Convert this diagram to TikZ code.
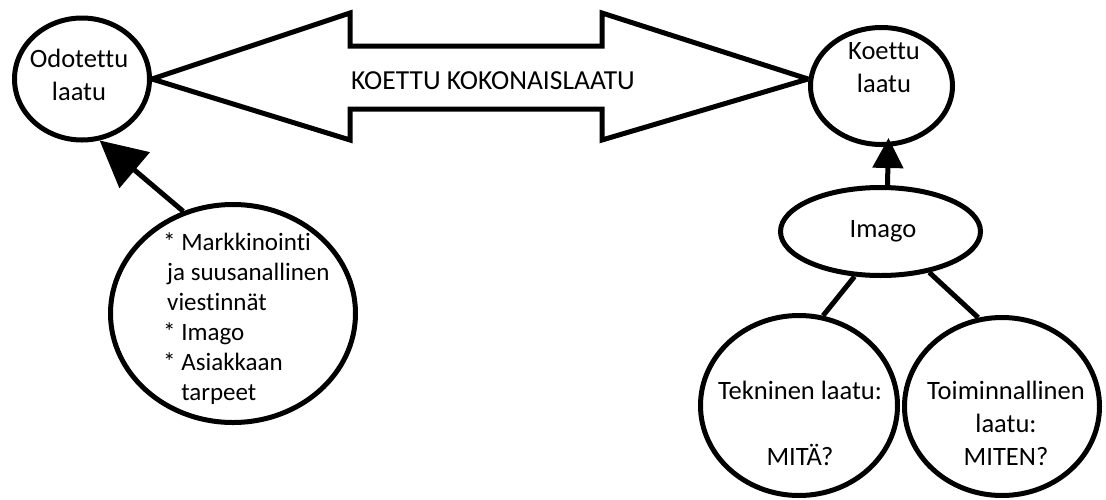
\documentclass[tikz,border=0pt]{standalone}
\usepackage{fontspec}
\setmainfont{Carlito}[Ligatures=NoCommon]
\usetikzlibrary{arrows.meta, shapes.geometric}

\begin{document}
\begin{tikzpicture}[x=1pt, y=-1pt,
  ring/.style={draw, ellipse, line width=5pt, inner sep=0pt, fill=white},
  txt/.style={inner sep=0pt, align=center, font=\fontsize{26.5}{33}\selectfont},
  conn/.style={line width=5pt},
  bigtip/.style={conn, -{Triangle[length=46pt, width=46pt]}},
  smalltip/.style={conn, -{Triangle[length=30pt, width=30pt]}}]
  \useasboundingbox (0,0) rectangle (1106,499);
  % the quality circles
  \node[ring, minimum width=135pt, minimum height=122pt] (odo) at (82,79) {};
  \node[ring, minimum width=142pt, minimum height=117pt] (koe) at (881.5,86) {};
  \node[ring, minimum width=200pt, minimum height=88pt] (img) at (880.5,231.5) {};
  \node[ring, minimum width=197pt, minimum height=180pt] (tek) at (799,405.5) {};
  \node[ring, minimum width=195pt, minimum height=178pt] (toi) at (1002,406.5) {};
  \node[ring, minimum width=245pt, minimum height=218pt] (lst) at (233,313.5) {};
  % double arrow between expected and experienced
  \draw[conn, line join=miter, miter limit=2] (odo.east) -- (350,13) -- (350,46)
    -- (602,46) -- (602,13) -- (koe.west |- odo.east) -- (602,140) -- (602,109)
    -- (350,109) -- (350,140) -- cycle;
  % texts
  \node[txt] (odo-t) at (79,75) {Odotettu\\laatu};
  \node[txt] (koe-t) at (884,68) {Koettu\\laatu};
  \node[txt] (img-t) at (883,231.5) {Imago};
  \node[txt] (tek-t) at (800,423) {Tekninen laatu:\\[33pt]MITÄ?};
  \node[txt] (toi-t) at (1006,423) {Toiminnallinen\\laatu:\\MITEN?};
  \node[txt, font=\fontsize{27.5}{33}\selectfont] (kk-t) at (493,80.5) {KOETTU KOKONAISLAATU};
  \node[txt, align=left, anchor=west, font=\fontsize{25}{30}\selectfont] (lst-t) at (163,319)
    {* Markkinointi\\\hspace{4pt}ja suusanallinen\\\hspace{4pt}viestinnät\\* Imago\\* Asiakkaan\\\phantom{* }tarpeet};
  % connectors
  \draw[bigtip] (lst.116) -- (odo.-74);
  \draw[smalltip] ([xshift=7pt]img.north) -- ([xshift=7pt,yshift=9pt]koe.south);
  \draw[conn] (img.240) -- (tek.75);
  \draw[conn] (img.-40) -- (toi.105);
\end{tikzpicture}
\end{document}
